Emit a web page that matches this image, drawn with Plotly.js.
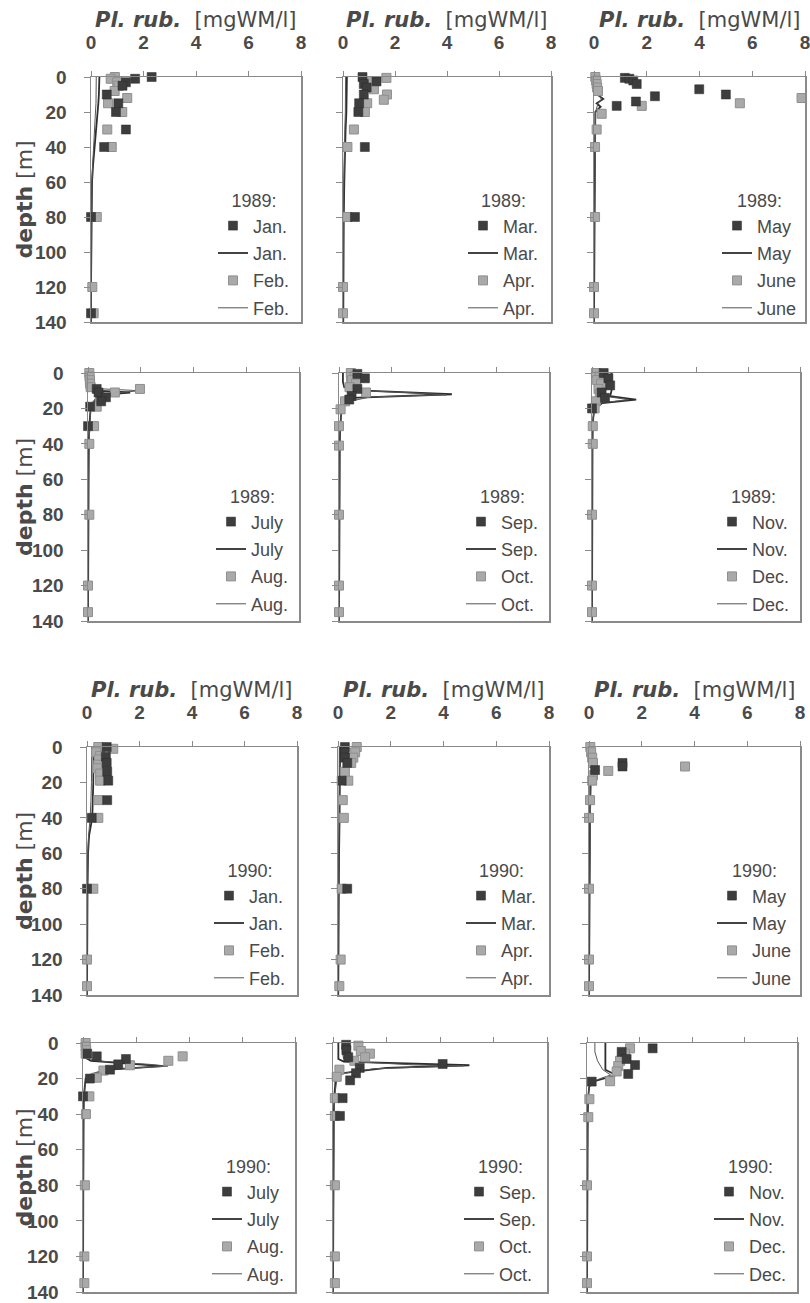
<!DOCTYPE html>
<html><head><meta charset="utf-8">
<script src="https://cdn.plot.ly/plotly-3.0.1.min.js"></script>
<style>html,body{margin:0;padding:0;background:#fff}#c{width:810px;height:1303px}</style>
</head><body><div id="c"></div>
<script>
// ---------------- DATA: [value mgWM/l, depth m] ----------------
const valueTicks = [0, 2, 4, 6, 8];
const depthTicks = [0, 20, 40, 60, 80, 100, 120, 140];
const years = ['1989', '1990'];
const monthPairs = [['Jan.', 'Feb.'], ['Mar.', 'Apr.'], ['May', 'June'], ['July', 'Aug.'], ['Sep.', 'Oct.'], ['Nov.', 'Dec.']];

// 1989
const jan89Obs = [[2.31,0],[1.68,1],[1.33,3],[1.2,5],[0.6,10],[1.04,15],[0.95,20],[1.33,30],[0.5,40],[0.0,80],[0.0,135]];
const jan89Line = [[0.32,0],[0.32,5],[0.3,10],[0.28,15],[0.25,20],[0.2,30],[0.15,40],[0.08,50],[0.04,60],[0.02,80],[0.01,100],[0,120],[0,140]];
const feb89Obs = [[0.91,0],[0.75,1],[1.0,3],[1.05,5],[0.9,8],[1.38,12],[0.65,15],[1.19,20],[0.62,30],[0.79,40],[0.22,80],[0.05,120],[0.1,135]];
const feb89Line = [[0.2,0],[0.2,5],[0.2,10],[0.19,15],[0.17,20],[0.14,30],[0.11,40],[0.06,50],[0.03,60],[0.02,80],[0.01,100],[0,120],[0,140]];

const mar89Obs = [[0.75,0],[1.29,2.5],[0.8,4],[0.91,6],[0.8,10],[0.62,15],[0.59,20],[0.84,40],[0.46,80]];
const mar89Line = [[0.15,0],[0.15,10],[0.13,20],[0.1,30],[0.08,40],[0.05,60],[0.03,80],[0.02,100],[0.01,120],[0.01,140]];
const apr89Obs = [[1.67,0.5],[1.03,3],[1.19,7],[1.69,10],[1.57,13],[0.93,15],[0.84,20],[0.42,30],[0.17,40],[0.17,80],[0.0,120],[0.0,135]];
const apr89Line = [[0.1,0],[0.1,10],[0.09,20],[0.07,30],[0.05,40],[0.03,60],[0.02,80],[0.01,100],[0,120],[0,140]];

const may89Obs = [[1.17,0.5],[1.34,1],[1.49,2],[1.62,4],[3.99,7],[5.0,10],[2.31,11],[1.59,14],[0.86,16.5]];
const may89Line = [[0.05,0],[0.08,5],[0.12,10],[0.35,12.5],[0.1,15],[0.25,17],[0.05,20],[0.04,40],[0.03,60],[0.02,80],[0.01,100],[0,120],[0,140]];
const jun89Obs = [[0.05,0],[0.08,2],[0.1,4],[0.12,6],[0.15,8],[7.87,12],[5.53,15],[1.81,16.5],[0.29,21],[0.1,30],[0.04,40],[0.04,80],[0.0,120],[0.0,135]];
const jun89Line = [[0.1,0],[0.12,5],[0.2,10],[0.28,13],[0.15,15],[0.1,18],[0.06,20],[0.05,40],[0.03,60],[0.02,80],[0.01,100],[0,120],[0,140]];

const jul89Obs = [[0.33,9],[0.4,11],[0.68,13.7],[0.5,16],[0.08,19],[0.0,30]];
const jul89Line = [[0.05,0],[0.05,5],[0.1,8],[0.3,10],[1.6,11],[0.4,12.5],[0.3,15],[0.15,18],[0.1,20],[0.05,30],[0.03,40],[0.02,60],[0.02,80],[0.01,100],[0.01,120],[0,140]];
const aug89Obs = [[0.05,0],[0.06,2],[0.07,4],[0.08,6],[0.1,8],[1.97,9],[1.02,11],[0.45,13.7],[0.33,19],[0.23,30],[0.05,40],[0.05,80],[0.0,120],[0.0,135]];
const aug89Line = [[0.08,0],[0.08,5],[0.12,8],[0.6,9],[1.95,10],[0.9,11.5],[0.35,13],[0.2,16],[0.1,20],[0.06,30],[0.04,40],[0.02,60],[0.02,80],[0.01,100],[0.01,120],[0,140]];

const sep89Obs = [[0.7,0.5],[0.99,3],[0.7,9],[0.48,13],[0.39,15]];
const sep89Line = [[0.15,0],[0.15,5],[0.2,8],[1.0,10],[4.3,12],[0.5,14],[0.3,16],[0.1,20],[0.05,30],[0.03,40],[0.02,80],[0,140]];
const oct89Obs = [[0.45,0],[0.6,2],[0.5,4],[0.65,6],[0.4,8],[1.03,11],[0.23,16],[0.06,20.5],[0.0,30],[0.0,41],[0.0,80],[0.0,120],[0.0,135]];
const oct89Line = [[0.3,0],[0.3,5],[0.35,8],[0.9,10],[2.5,11],[4.1,12.3],[1.2,13.5],[0.4,16],[0.1,20],[0.05,30],[0.03,40],[0.02,80],[0,140]];

const nov89Obs = [[0.45,0],[0.63,3],[0.7,7],[0.37,11],[0.5,14],[0.0,20]];
const nov89Line = [[0.75,0],[0.75,5],[0.75,10],[0.7,13],[1.7,15],[0.4,17],[0.1,20],[0.05,25],[0.03,30],[0.02,40],[0.01,80],[0,140]];
const dec89Obs = [[0.15,0],[0.3,2],[0.2,4],[0.35,6],[0.25,9],[0.3,12],[0.15,16],[0.1,20],[0.03,30],[0.03,40],[0.0,80],[0.0,120],[0.0,135]];
const dec89Line = [[0.3,0],[0.3,5],[0.35,10],[0.4,13],[1.4,15],[0.3,17],[0.1,20],[0.05,25],[0.03,30],[0.02,40],[0.01,80],[0,140]];

// 1990
const jan90Obs = [[0.75,0],[0.72,5.5],[0.75,9],[0.77,14],[0.81,19],[0.77,30],[0.18,40],[0.0,80]];
const jan90Line = [[0.25,0],[0.25,10],[0.24,20],[0.22,30],[0.2,40],[0.08,50],[0.04,60],[0.02,80],[0.01,100],[0,120],[0,140]];
const feb90Obs = [[0.43,0],[1.0,1],[0.35,3],[0.5,5],[0.45,7],[0.43,10],[0.4,12],[0.5,15],[0.5,19],[0.43,30],[0.43,40],[0.24,80],[0.0,120],[0.0,135]];
const feb90Line = [[0.18,0],[0.18,10],[0.17,20],[0.15,30],[0.12,40],[0.06,50],[0.03,60],[0.02,80],[0.01,100],[0,120],[0,140]];

const mar90Obs = [[0.26,0],[0.25,3],[0.26,6],[0.35,9],[0.14,19],[0.35,80]];
const mar90Line = [[0.08,0],[0.08,20],[0.06,40],[0.04,60],[0.03,80],[0.02,100],[0.01,120],[0.01,140]];
const apr90Obs = [[0.71,0],[0.65,3],[0.58,6],[0.5,9],[0.26,14],[0.39,19],[0.18,30],[0.22,40],[0.14,80],[0.1,120],[0.05,135]];
const apr90Line = [[0.05,0],[0.05,20],[0.04,40],[0.03,60],[0.02,80],[0.01,100],[0,120],[0,140]];

const may90Obs = [[1.27,9],[1.27,11],[0.23,13]];
const may90Line = [[0.03,0],[0.05,8],[0.15,11],[0.35,13],[0.1,15],[0.05,20],[0.04,40],[0.03,60],[0.02,80],[0.01,100],[0,140]];
const jun90Obs = [[0.05,0],[0.08,3],[0.12,6],[0.15,9],[3.64,11],[0.73,13.5],[0.15,16],[0.12,19],[0.04,30],[0.0,40],[0.0,80],[0.0,120],[0.0,135]];
const jun90Line = [[0.05,0],[0.08,8],[0.2,11],[0.3,13],[0.15,15],[0.08,20],[0.05,40],[0.03,60],[0.02,80],[0.01,100],[0,140]];

const jul90Obs = [[0.16,6],[0.52,7.5],[1.62,9],[1.33,12],[1.02,15],[0.26,20],[0.0,30]];
const jul90Line = [[0.05,0],[0.05,5],[0.06,8],[0.3,10],[2.0,12],[3.0,13],[1.0,15],[0.3,18],[0.1,20],[0.03,30],[0.02,40],[0.01,80],[0,140]];
const aug90Obs = [[0.1,0],[0.1,2],[0.12,4],[0.1,6],[3.76,7.5],[3.22,10],[1.77,12.5],[0.77,15.5],[0.52,19.5],[0.24,30],[0.11,40],[0.07,80],[0.05,120],[0.05,135]];
const aug90Line = [[0.05,0],[0.05,5],[0.08,8],[0.5,10],[2.5,12],[3.2,13],[0.8,15],[0.2,18],[0.1,20],[0.05,30],[0.03,40],[0.02,80],[0,140]];

const sep90Obs = [[0.49,1],[0.5,4],[0.57,8],[4.1,11.8],[1.0,14],[0.86,17],[0.64,21],[0.36,31],[0.26,41]];
const sep90Line = [[0.2,0],[0.2,5],[0.2,9],[0.4,10.5],[3.5,12],[5.1,12.5],[2.0,14],[0.3,17],[0.1,20],[0.05,30],[0.03,40],[0.02,80],[0,140]];
const oct90Obs = [[0.95,1.5],[1.04,4.5],[1.38,6],[1.2,8],[0.8,10],[0.24,15],[0.14,19],[0.07,31],[0.07,41],[0.07,80],[0.07,120],[0.07,135]];
const oct90Line = [[0.35,0],[0.35,5],[0.4,9],[0.8,10.5],[3.0,12.3],[4.9,12.8],[1.5,14.5],[0.4,17],[0.15,20],[0.06,30],[0.04,40],[0.02,80],[0,140]];

const nov90Obs = [[2.5,3],[1.32,5],[1.51,9],[1.83,12.4],[1.57,17.4],[0.18,21.7]];
const nov90Line = [[0.7,0],[0.7,5],[0.7,10],[0.7,15],[1.1,18],[0.6,20],[0.15,22],[0.08,25],[0.05,30],[0.03,40],[0.01,80],[0,140]];
const dec90Obs = [[1.64,3],[1.45,6],[1.26,10],[1.19,13],[1.13,16],[0.88,21.5],[0.09,31.6],[0.05,41.7],[0.0,80],[0.0,120],[0.0,135]];
const dec90Line = [[0.3,0],[0.3,5],[0.4,10],[0.6,15],[0.9,18],[0.5,20],[0.2,22],[0.08,25],[0.05,30],[0.03,40],[0.01,80],[0,140]];

// panel table built from the arrays above
const panelData = [
  [jan89Obs, jan89Line, feb89Obs, feb89Line], [mar89Obs, mar89Line, apr89Obs, apr89Line], [may89Obs, may89Line, jun89Obs, jun89Line],
  [jul89Obs, jul89Line, aug89Obs, aug89Line], [sep89Obs, sep89Line, oct89Obs, oct89Line], [nov89Obs, nov89Line, dec89Obs, dec89Line],
  [jan90Obs, jan90Line, feb90Obs, feb90Line], [mar90Obs, mar90Line, apr90Obs, apr90Line], [may90Obs, may90Line, jun90Obs, jun90Line],
  [jul90Obs, jul90Line, aug90Obs, aug90Line], [sep90Obs, sep90Line, oct90Obs, oct90Line], [nov90Obs, nov90Line, dec90Obs, dec90Line]
];

// ---------------- LAYOUT GEOMETRY (pixels) ----------------
const W = 810, H = 1303;
const rowsPx = [[77, 322], [373, 621], [747, 995], [1043, 1292]];
const colsPx = [
  [[91, 301], [343, 551], [594, 805]],
  [[88, 299], [339, 549], [592, 800]],
  [[87, 297], [338, 549], [589, 800]],
  [[83, 295], [333, 547], [587, 797]]
];
const fx = p => p / W, fy = p => 1 - p / H;

const AX = '#8a8a8a', TXT = '#4a4a4a';
const DARK = '#3d3d3d', LIGHT = '#a9a9a9';
const tickFont = {family: 'Liberation Sans, Arial, sans-serif', size: 19, color: TXT, weight: 'bold'};
const legFont = {family: 'Liberation Sans, Arial, sans-serif', size: 18, color: TXT};
const titleFam = 'DejaVu Sans, Verdana, sans-serif';

const traces = [];
const layout = {
  width: W, height: H, margin: {l: 0, r: 0, t: 0, b: 0},
  paper_bgcolor: '#fff', plot_bgcolor: '#fff', annotations: []
};

panelData.forEach((pd, i) => {
  const r = Math.floor(i / 3), c = i % 3;
  const s = i === 0 ? '' : String(i + 1);
  const [y0, y1] = rowsPx[r];
  const [x0, x1] = colsPx[r][c];
  const year = years[Math.floor(r / 2)];
  const [ma, mb] = monthPairs[(r % 2) * 3 + c];
  const [aObs, aLine, bObs, bLine] = pd;
  const xa = 'x' + s, ya = 'y' + s, lg = 'legend' + s;

  layout['xaxis' + s] = {
    domain: [fx(x0), fx(x1)], anchor: ya, side: 'top', range: [0, 8],
    tickvals: valueTicks, ticks: 'outside', ticklen: 5, tickcolor: AX, tickwidth: 1,
    showline: true, mirror: true, linecolor: AX, linewidth: 1.5,
    showgrid: false, zeroline: false, showticklabels: (r % 2 === 0),
    tickfont: tickFont, ticklabelstandoff: 14, ticklabeloverflow: 'allow',
    automargin: false, fixedrange: true
  };
  layout['yaxis' + s] = {
    domain: [fy(y1), fy(y0)], anchor: xa, range: [140, 0],
    tickvals: depthTicks, ticks: 'outside', ticklen: 6, tickcolor: AX, tickwidth: 1,
    showline: true, mirror: true, linecolor: AX, linewidth: 1.5,
    showgrid: false, zeroline: false, showticklabels: (c === 0),
    tickfont: tickFont, ticklabelstandoff: 13, ticklabeloverflow: 'allow',
    automargin: false, fixedrange: true
  };

  const mk = (arr, name, rank, style) => Object.assign({
    x: arr.map(p => p[0]), y: arr.map(p => p[1]), xaxis: xa, yaxis: ya,
    name: name, legend: lg, legendrank: rank, legendgroup: 'g' + i + '_' + rank, hoverinfo: 'skip'
  }, style);

  traces.push(mk(aLine, ma, 2, {mode: 'lines', line: {color: '#2e2e2e', width: 1.8}}));
  traces.push(mk(bLine, mb, 4, {mode: 'lines', line: {color: '#555', width: 1}}));
  traces.push(mk(bObs, mb, 3, {mode: 'markers', cliponaxis: false,
    marker: {symbol: 'square', size: 9, color: LIGHT, line: {color: '#8f8f8f', width: 1}}}));
  traces.push(mk(aObs, ma, 1, {mode: 'markers', cliponaxis: false,
    marker: {symbol: 'square', size: 9, color: DARK, line: {color: '#2a2a2a', width: 0.5}}}));

  layout[lg] = {
    x: fx(x1 - 88), xanchor: 'left', y: fy(y0 + 107), yanchor: 'top',
    bgcolor: 'rgba(0,0,0,0)', borderwidth: 0, font: legFont,
    title: {text: year + ':', font: legFont, side: 'top center'},
    traceorder: 'grouped', tracegroupgap: 1, itemclick: false, itemdoubleclick: false
  };

  if (r % 2 === 0) {
    layout.annotations.push({
      xref: 'paper', yref: 'paper', x: fx((x0 + x1) / 2), y: fy(y0 - 57),
      xanchor: 'center', yanchor: 'middle', showarrow: false,
      text: '<b><i>Pl. rub.</i></b>&nbsp; [mgWM/l]',
      font: {family: titleFam, size: 21, color: TXT}
    });
  }
  if (c === 0) {
    layout.annotations.push({
      xref: 'paper', yref: 'paper', x: fx(24), y: fy((y0 + y1) / 2),
      xanchor: 'center', yanchor: 'middle', showarrow: false, textangle: -90,
      text: '<b>depth</b> [m]', font: {family: titleFam, size: 22, color: TXT}
    });
  }
});

Plotly.newPlot('c', traces, layout, {displayModeBar: false, staticPlot: true});
</script></body></html>
